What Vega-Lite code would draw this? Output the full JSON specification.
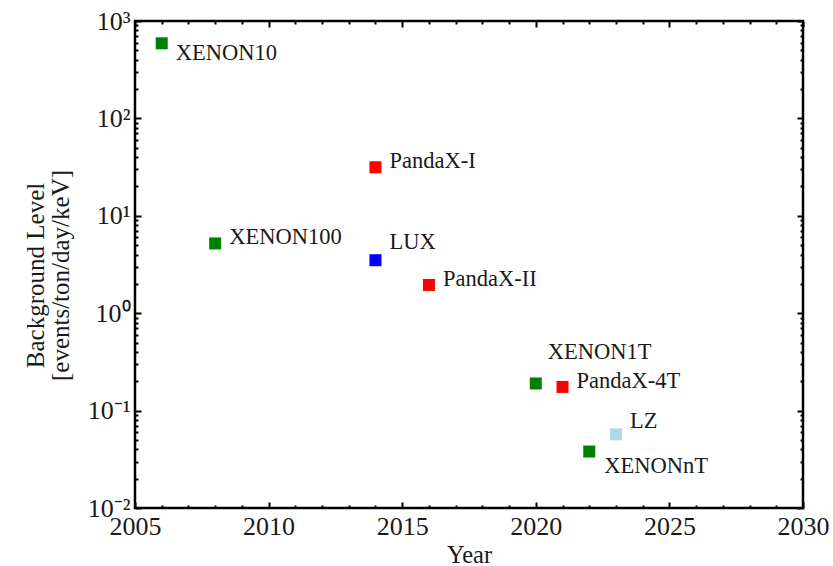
{
  "$schema": "https://vega.github.io/schema/vega-lite/v6.json",
  "width": 668,
  "height": 487,
  "autosize": "none",
  "padding": {"left": 135, "top": 21, "right": 30, "bottom": 58},
  "background": "white",
  "config": {
    "view": {"stroke": "black", "strokeWidth": 2.5},
    "font": "Liberation Serif",
    "axis": {"grid": false, "domain": false, "labelFlush": false, "labelFont": "Liberation Serif", "titleFont": "Liberation Serif", "labelColor": "#1a1a1a", "titleColor": "#1a1a1a", "tickColor": "black", "tickWidth": 2},
    "text": {"font": "Liberation Serif", "fontSize": 22.5, "color": "#1a1a1a"}
  },
  "data": {
    "values": [
      {"name": "XENON10", "year": 2006, "bg": 590, "family": "XENON"},
      {"name": "XENON100", "year": 2008, "bg": 5.2, "family": "XENON"},
      {"name": "PandaX-I", "year": 2014, "bg": 31.5, "family": "PandaX"},
      {"name": "LUX", "year": 2014, "bg": 3.5, "family": "LUX"},
      {"name": "PandaX-II", "year": 2016, "bg": 1.95, "family": "PandaX"},
      {"name": "XENON1T", "year": 2020, "bg": 0.19, "family": "XENON"},
      {"name": "PandaX-4T", "year": 2021, "bg": 0.175, "family": "PandaX"},
      {"name": "LZ", "year": 2023, "bg": 0.057, "family": "LZ"},
      {"name": "XENONnT", "year": 2022, "bg": 0.038, "family": "XENON"}
    ]
  },
  "encoding": {
    "x": {"field": "year", "type": "quantitative", "scale": {"domain": [2005, 2030], "nice": false, "zero": false}},
    "y": {"field": "bg", "type": "quantitative", "scale": {"type": "log", "domain": [0.01, 1000], "nice": false}}
  },
  "layer": [
    {
      "mark": {"type": "point", "shape": "square", "filled": true, "size": 144, "opacity": 1},
      "encoding": {
        "x": {"field": "year", "type": "quantitative", "axis": {"orient": "bottom", "ticks": false, "values": [2005, 2010, 2015, 2020, 2025, 2030], "format": "d", "labelFont": "Liberation Serif", "labelFontSize": 26, "labelPadding": 5, "title": "Year", "titleFont": "Liberation Serif", "titleFontSize": 24.5, "titleFontWeight": "normal", "titlePadding": 4}},
        "y": {"field": "bg", "type": "quantitative", "axis": {"orient": "left", "ticks": false, "values": [0.01, 0.1, 1, 10, 100, 1000], "labelExpr": "datum.value >= 999 ? '10³' : datum.value >= 99 ? '10²' : datum.value >= 9 ? '10¹' : datum.value >= 0.9 ? '10⁰' : datum.value >= 0.09 ? '10⁻¹' : '10⁻²'", "labelFont": "Liberation Serif", "labelFontSize": 26, "labelPadding": 5, "title": ["Background Level", "[events/ton/day/keV]"], "titleFont": "Liberation Serif", "titleFontSize": 25, "titleLineHeight": 25, "titleFontWeight": "normal", "titlePadding": 14, "titleY": 254}},
        "color": {"field": "family", "type": "nominal", "scale": {"domain": ["XENON", "PandaX", "LUX", "LZ"], "range": ["#008000", "#ff0000", "#0000ff", "#add8e6"]}, "legend": null}
      }
    },
    {
      "mark": {"type": "point", "opacity": 0},
      "encoding": {
        "x": {"field": "year", "type": "quantitative", "axis": {"orient": "bottom", "labels": false, "title": null, "tickSize": -3, "values": [2006, 2007, 2008, 2009, 2011, 2012, 2013, 2014, 2016, 2017, 2018, 2019, 2021, 2022, 2023, 2024, 2026, 2027, 2028, 2029]}},
        "y": {"field": "bg", "type": "quantitative", "axis": {"orient": "left", "labels": false, "title": null, "tickSize": -3, "values": [0.02, 0.03, 0.04, 0.05, 0.06, 0.07, 0.08, 0.09, 0.2, 0.3, 0.4, 0.5, 0.6, 0.7, 0.8, 0.9, 2, 3, 4, 5, 6, 7, 8, 9, 20, 30, 40, 50, 60, 70, 80, 90, 200, 300, 400, 500, 600, 700, 800, 900]}}
      }
    },
    {
      "mark": {"type": "point", "opacity": 0},
      "encoding": {
        "x": {"field": "year", "type": "quantitative", "axis": {"orient": "bottom", "labels": false, "title": null, "tickSize": -6, "values": [2005, 2010, 2015, 2020, 2025, 2030]}},
        "y": {"field": "bg", "type": "quantitative", "axis": {"orient": "left", "labels": false, "title": null, "tickSize": -6, "values": [0.01, 0.1, 1, 10, 100, 1000]}}
      }
    },
    {
      "mark": {"type": "point", "opacity": 0},
      "encoding": {
        "x": {"field": "year", "type": "quantitative", "axis": {"orient": "top", "labels": false, "title": null, "tickSize": -3, "values": [2006, 2007, 2008, 2009, 2011, 2012, 2013, 2014, 2016, 2017, 2018, 2019, 2021, 2022, 2023, 2024, 2026, 2027, 2028, 2029]}},
        "y": {"field": "bg", "type": "quantitative", "axis": {"orient": "right", "labels": false, "title": null, "tickSize": -3, "values": [0.02, 0.03, 0.04, 0.05, 0.06, 0.07, 0.08, 0.09, 0.2, 0.3, 0.4, 0.5, 0.6, 0.7, 0.8, 0.9, 2, 3, 4, 5, 6, 7, 8, 9, 20, 30, 40, 50, 60, 70, 80, 90, 200, 300, 400, 500, 600, 700, 800, 900]}}
      }
    },
    {
      "mark": {"type": "point", "opacity": 0},
      "encoding": {
        "x": {"field": "year", "type": "quantitative", "axis": {"orient": "top", "labels": false, "title": null, "tickSize": -6, "values": [2005, 2010, 2015, 2020, 2025, 2030]}},
        "y": {"field": "bg", "type": "quantitative", "axis": {"orient": "right", "labels": false, "title": null, "tickSize": -6, "values": [0.01, 0.1, 1, 10, 100, 1000]}}
      }
    },
    {
      "transform": [{"filter": "indexof(['XENON100', 'PandaX-I', 'PandaX-II', 'PandaX-4T'], datum.name) >= 0"}],
      "mark": {"type": "text", "font": "Liberation Serif", "align": "left", "baseline": "middle", "dx": 14, "dy": -6},
      "encoding": {"x": {"field": "year", "type": "quantitative", "axis": null}, "y": {"field": "bg", "type": "quantitative", "axis": null}, "text": {"field": "name"}}
    },
    {
      "transform": [{"filter": "datum.name == 'XENON10'"}],
      "mark": {"type": "text", "font": "Liberation Serif", "align": "left", "baseline": "middle", "dx": 14, "dy": 10},
      "encoding": {"x": {"field": "year", "type": "quantitative", "axis": null}, "y": {"field": "bg", "type": "quantitative", "axis": null}, "text": {"field": "name"}}
    },
    {
      "transform": [{"filter": "datum.name == 'LUX'"}],
      "mark": {"type": "text", "font": "Liberation Serif", "align": "left", "baseline": "middle", "dx": 14, "dy": -18},
      "encoding": {"x": {"field": "year", "type": "quantitative", "axis": null}, "y": {"field": "bg", "type": "quantitative", "axis": null}, "text": {"field": "name"}}
    },
    {
      "transform": [{"filter": "datum.name == 'XENON1T'"}],
      "mark": {"type": "text", "font": "Liberation Serif", "align": "left", "baseline": "middle", "dx": 12, "dy": -31},
      "encoding": {"x": {"field": "year", "type": "quantitative", "axis": null}, "y": {"field": "bg", "type": "quantitative", "axis": null}, "text": {"field": "name"}}
    },
    {
      "transform": [{"filter": "datum.name == 'LZ'"}],
      "mark": {"type": "text", "font": "Liberation Serif", "align": "left", "baseline": "middle", "dx": 14, "dy": -13},
      "encoding": {"x": {"field": "year", "type": "quantitative", "axis": null}, "y": {"field": "bg", "type": "quantitative", "axis": null}, "text": {"field": "name"}}
    },
    {
      "transform": [{"filter": "datum.name == 'XENONnT'"}],
      "mark": {"type": "text", "font": "Liberation Serif", "align": "left", "baseline": "middle", "dx": 15, "dy": 14},
      "encoding": {"x": {"field": "year", "type": "quantitative", "axis": null}, "y": {"field": "bg", "type": "quantitative", "axis": null}, "text": {"field": "name"}}
    }
  ],
  "resolve": {"axis": {"x": "independent", "y": "independent"}}
}
